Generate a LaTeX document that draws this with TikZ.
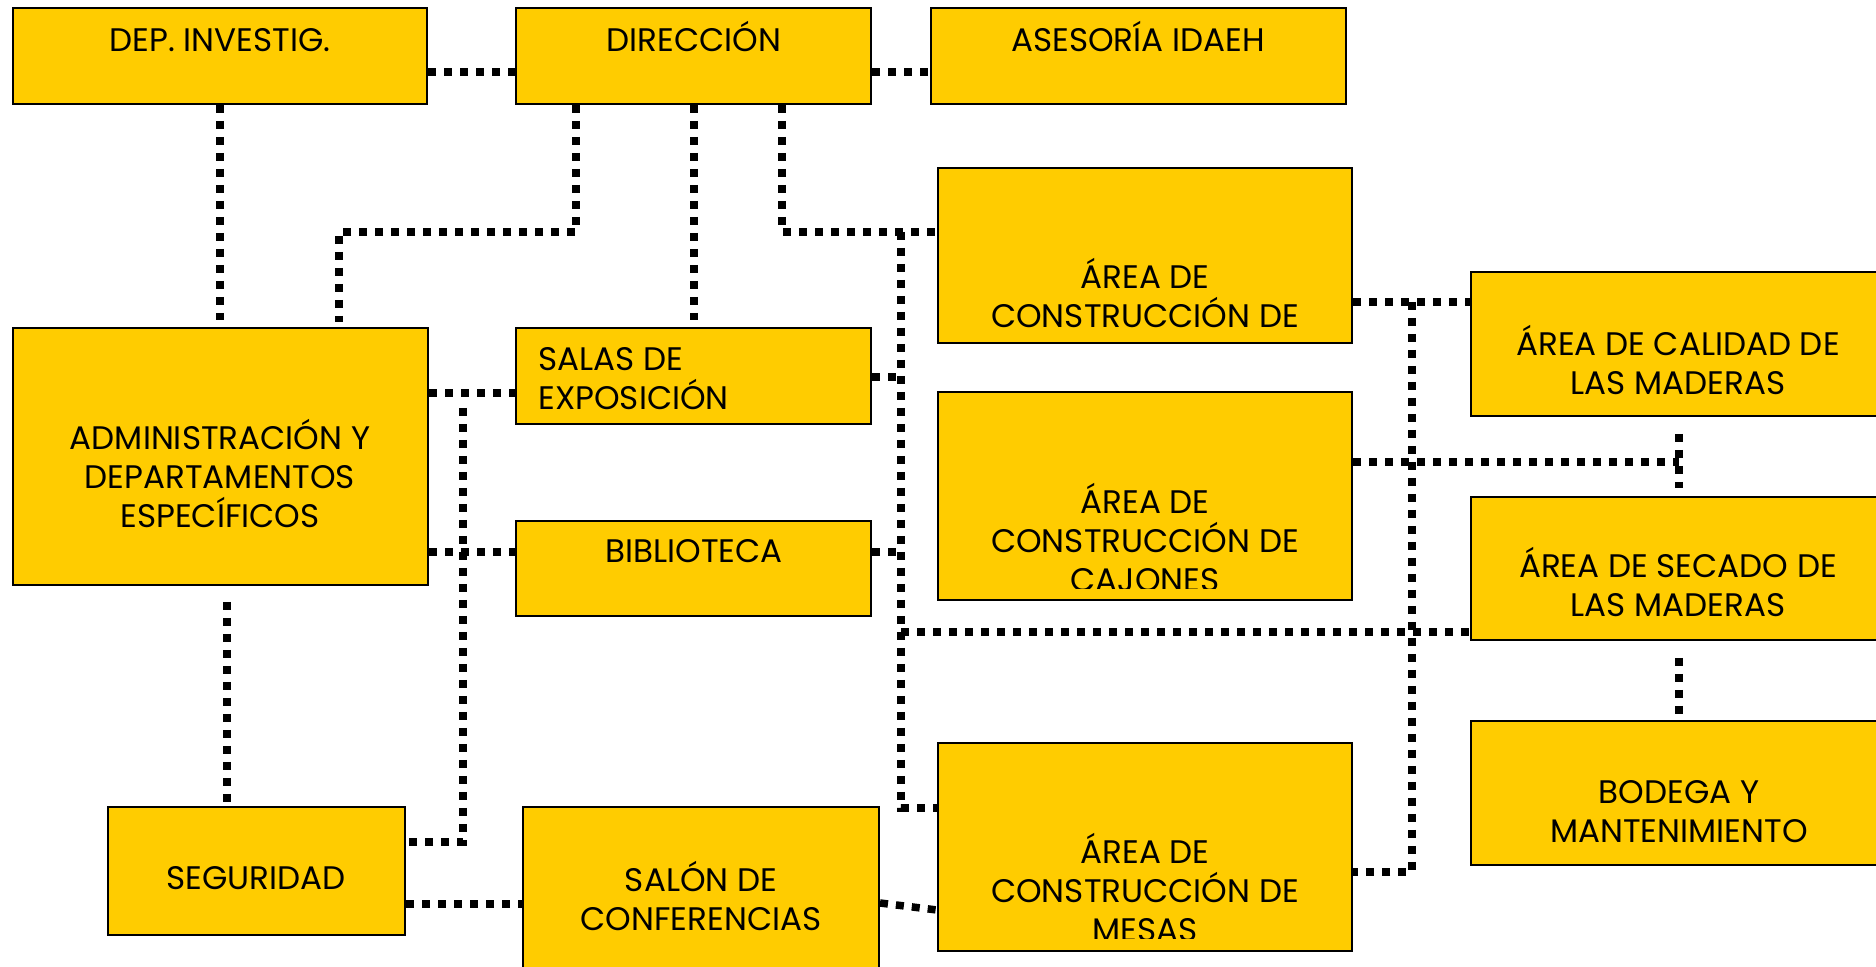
\documentclass[tikz,border=0pt]{standalone}
\usepackage{fontspec}
\setmainfont{Poppins}
\usetikzlibrary{fit}
\definecolor{gold}{HTML}{FFCC00}
\begin{document}
\begin{tikzpicture}[x=0.5pt,y=-0.5pt,
  box/.style={draw=black,line width=1pt,fill=gold,inner sep=0pt},
  lbl/.style={font=\fontsize{16.3}{19.5}\selectfont,align=center,anchor=base,inner sep=0pt},
  lbll/.style={font=\fontsize{16.3}{19.5}\selectfont,align=left,anchor=base west,inner sep=0pt},
  link/.style={line width=3.75pt,dash pattern=on 4pt off 4pt,black}]
\useasboundingbox (0,0) rectangle (1876,967);
% boxes
\node[box,fit={(13,8) (427,104)}] (dep) {};
\node[box,fit={(516,8) (871,104)}] (dir) {};
\node[box,fit={(931,8) (1346,104)}] (ase) {};
\node[box,fit={(938,168) (1352,343)}] (ens) {};
\node[box,fit={(1471,272) (1885,416)}] (cal) {};
\node[box,fit={(13,328) (428,585)}] (adm) {};
\node[box,fit={(516,328) (871,424)}] (sal) {};
\node[box,fit={(938,392) (1352,600)}] (caj) {};
\node[box,fit={(1471,497) (1885,640)}] (sec) {};
\node[box,fit={(516,521) (871,616)}] (bib) {};
\node[box,fit={(1471,721) (1885,865)}] (bod) {};
\node[box,fit={(108,807) (405,935)}] (seg) {};
\node[box,fit={(523,807) (879,1000)}] (con) {};
\node[box,fit={(938,743) (1352,951)}] (mes) {};
% texts (anchor = baseline of the last line)
\node[lbl] (tdep) at (220,52) {DEP. INVESTIG.};
\node[lbl] (tdir) at (694,52) {DIRECCIÓN};
\node[lbl] (tase) at (1138,52) {ASESORÍA IDAEH};
\node[lbl] (tens) at (1145,328) {ÁREA DE\\CONSTRUCCIÓN DE};
\node[lbl] (tcal) at (1678,395) {ÁREA DE CALIDAD DE\\LAS MADERAS};
\node[lbl] (tadm) at (220,528) {ADMINISTRACIÓN Y\\DEPARTAMENTOS\\ESPECÍFICOS};
\node[lbll] (tsal) at (538,410) {SALAS DE\\EXPOSICIÓN};
\begin{scope}
\clip (938,392) rectangle (1352,589);
\node[lbl] (tcaj) at (1145,592) {ÁREA DE\\CONSTRUCCIÓN DE\\CAJONES};
\end{scope}
\node[lbl] (tsec) at (1678,617) {ÁREA DE SECADO DE\\LAS MADERAS};
\node[lbl] (tbib) at (694,563) {BIBLIOTECA};
\node[lbl] (tbod) at (1679,843) {BODEGA Y\\MANTENIMIENTO};
\node[lbl] (tseg) at (256,890) {SEGURIDAD};
\node[lbl] (tcon) at (701,930) {SALÓN DE\\CONFERENCIAS};
\begin{scope}
\clip (938,743) rectangle (1352,939);
\node[lbl] (tmes) at (1145,942) {ÁREA DE\\CONSTRUCCIÓN DE\\MESAS};
\end{scope}
% connectors
\draw[link] (dep.east |- 0,72) -- (dir.west |- 0,72);
\draw[link] (dir.east |- 0,72) -- (ase.west |- 0,72);
\draw[link] (dep.south) -- (dep.south |- 0,320);
\draw[link] (dir.south -| 576,0) -- (576,232) -| (339,322);
\draw[link] (dir.south -| 694,0) -- (694,320);
\draw[link] (dir.south -| 782,0) -- (782,232) -- (ens.west |- 0,232);
\coordinate (vtop) at (901,232);
\draw[link] (vtop) -- (901,808) -- (mes.west |- 0,808);
\draw[link] (sal.east |- 0,377) -- (901,377);
\draw[link] (bib.east |- 0,552) -- (901,552);
\draw[link] (901,632) -- (sec.west |- 0,632);
\draw[link] (adm.east |- 0,393) -- (sal.west |- 0,393);
\draw[link] (adm.east |- 0,552) -- (bib.west |- 0,552);
\draw[link] (463,408) -- (463,842) -- (seg.east |- 0,842);
\draw[link] (227,602) -- (seg.north -| 227,0);
\draw[link] (seg.east |- 0,904) -- (con.west |- 0,904);
\draw[link] (con.east |- 0,903) -- (mes.west |- 0,910);
\draw[link] (ens.east |- 0,302) -- (cal.west |- 0,302);
\draw[link] (1412,302) -- (1412,872) -- (mes.east |- 0,872);
\draw[link] (caj.east |- 0,462) -- (1679,462);
\draw[link] (cal.south -| 1679,0) ++(0,17) -- (1679,488);
\draw[link] (sec.south -| 1679,0) ++(0,17) -- (bod.north -| 1679,0) ++(0,-8);
\end{tikzpicture}
\end{document}
